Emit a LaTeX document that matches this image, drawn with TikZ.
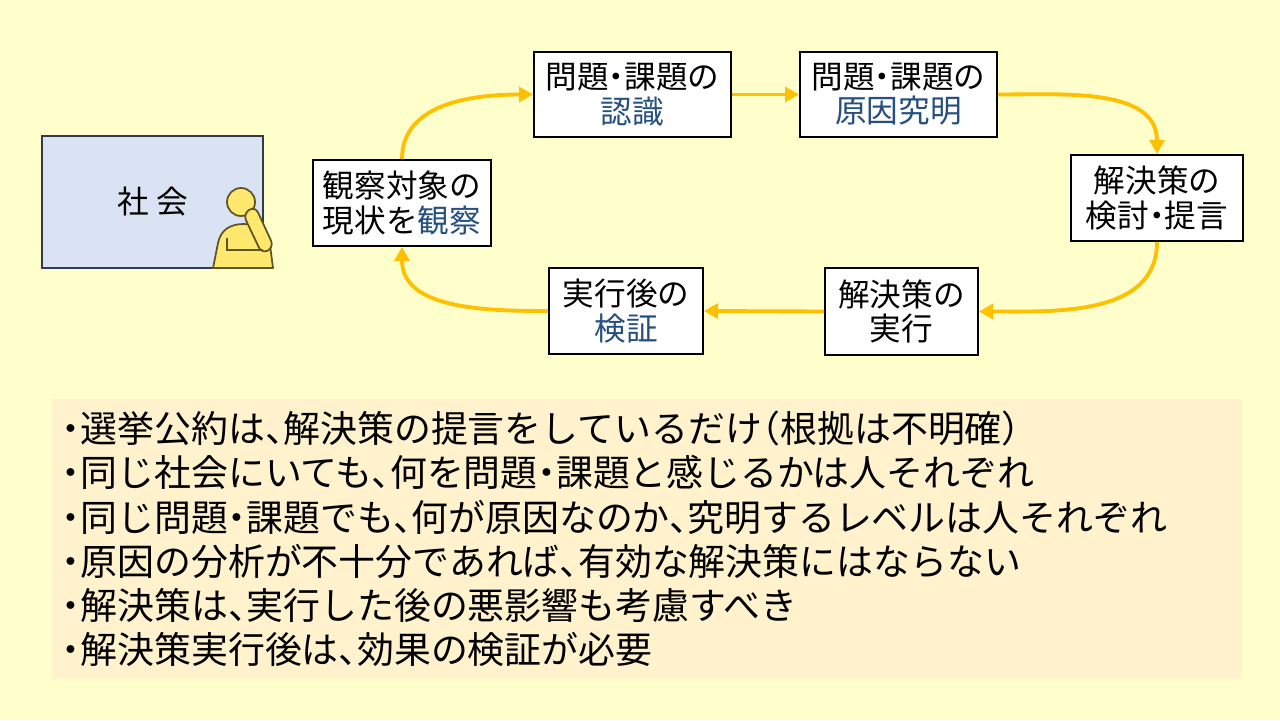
\documentclass[tikz,border=0pt]{standalone}
\usepackage{fontspec}
\setmainfont[RawFeature=+halt]{Noto Sans CJK JP}
\usetikzlibrary{arrows.meta}

\definecolor{bgyellow}{RGB}{255,255,204}
\definecolor{noteorange}{RGB}{255,242,204}
\definecolor{socblue}{RGB}{218,227,243}
\definecolor{socline}{RGB}{47,59,82}
\definecolor{flow}{RGB}{255,192,0}
\definecolor{keyblue}{RGB}{38,80,128}
\definecolor{figyellow}{RGB}{255,232,110}
\definecolor{figline}{RGB}{95,85,35}

\begin{document}
\begin{tikzpicture}[x=0.02cm, y=-0.02cm,
	stage/.style={draw=black, line width=1.1pt, fill=white, align=center, inner sep=0pt,
		font=\fontsize{18}{19.5}\selectfont},
	flowarrow/.style={draw=flow, line width=2.2pt, -{Triangle[length=8pt,width=8.5pt]}},
	thinker/.style={fill=figyellow, draw=figline, line width=1pt, line join=round}]

			% Background and page size
			\fill[bgyellow] (0,0) rectangle (1280,720);
			\useasboundingbox (0,0) rectangle (1280,720);

			% The society box
			\node[draw=socline, line width=1.2pt, fill=socblue, minimum width=4.42cm, minimum height=2.64cm,
				font=\fontsize{18}{20}\selectfont] (society) at (152.5,202) {社 会};

			% The thinking person at the edge of the box
			\draw[thinker] (213,268) -- (218,243) .. controls (221,229) and (231,224) .. (244,224)
				.. controls (258,224) and (267,232) .. (270,245) -- (273,268) -- cycle;
			\draw[thinker] (241,202) circle[radius=14];
			\draw[thinker, rounded corners=4] (243,214) -- (255,206) -- (274,247) -- (262,254) -- cycle;
			\draw[figline, line width=1pt] (227,238) -- (227,250) -- (263,250);

			% The stages of the cycle
			\node[stage, minimum width=3.56cm, minimum height=1.72cm] (observe) at (402,203)
				{観察対象の\\現状を\textcolor{keyblue}{観察}};
			\node[stage, minimum width=3.94cm, minimum height=1.70cm] (recog) at (632.5,94.5)
				{問題・課題の\\\textcolor{keyblue}{認識}};
			\node[stage, minimum width=3.94cm, minimum height=1.70cm] (cause) at (898.5,94.5)
				{問題・課題の\\\textcolor{keyblue}{原因究明}};
			\node[stage, minimum width=3.44cm, minimum height=1.72cm] (plan) at (1157,198)
				{解決策の\\検討・提言};
			\node[stage, minimum width=3.06cm, minimum height=1.74cm] (exec) at (901.5,311.5)
				{解決策の\\実行};
			\node[stage, minimum width=3.08cm, minimum height=1.72cm] (verify) at (626,311)
				{実行後の\\\textcolor{keyblue}{検証}};

			% Draw the arrows round the cycle
			\draw[flowarrow] (observe.north) to[out=90, in=180] (recog.west);
			\draw[flowarrow] (recog.east) -- (cause.west);
			\draw[flowarrow] (cause.east) to[out=0, in=90] (plan.north);
			\draw[flowarrow] (plan.south) to[out=-90, in=0] (exec.east);
			\draw[flowarrow] (exec.west) -- (verify.east);
			\draw[flowarrow] (verify.west) to[out=180, in=-90] (observe.south);

			% The notes below
			\node[fill=noteorange, text width=23.4cm, inner xsep=0.2cm, inner ysep=0pt, minimum height=5.6cm,
				align=left, font=\fontsize{21}{25.2}\selectfont] (notes) at (647,539)
				{・選挙公約は、解決策の提言をしているだけ（根拠は不明確）\\
				・同じ社会にいても、何を問題・課題と感じるかは人それぞれ\\
				・同じ問題・課題でも、何が原因なのか、究明するレベルは人それぞれ\\
				・原因の分析が不十分であれば、有効な解決策にはならない\\
				・解決策は、実行した後の悪影響も考慮すべき\\
				・解決策実行後は、効果の検証が必要};

		\end{tikzpicture}
\end{document}
